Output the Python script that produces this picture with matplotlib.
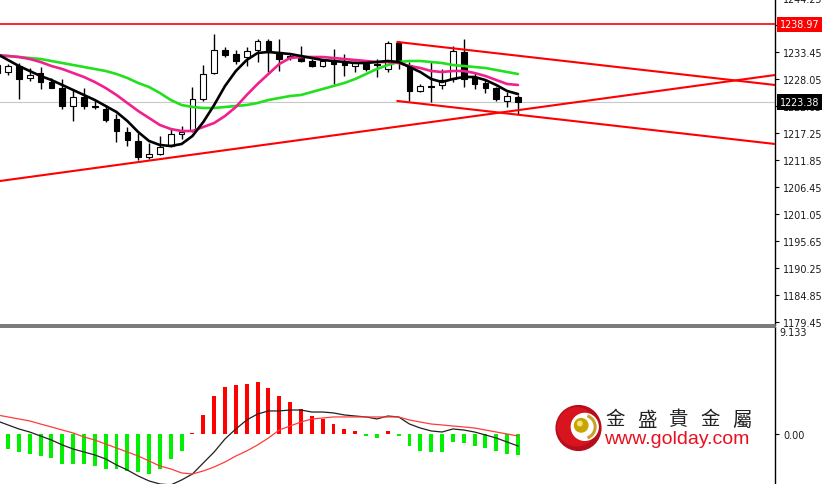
#!/usr/bin/env python3
"""
Gold H-chart recreation: candles with three moving averages, trend channel,
and a MACD panel underneath. Saves out.png (828x485).
"""

from __future__ import annotations

import matplotlib
matplotlib.use("Agg")
import matplotlib.pyplot as plt
import matplotlib.transforms as mtransforms
from matplotlib.patches import Rectangle, Circle, Arc
import numpy as np

# =========================
# Data
# =========================
# bar 0 is the one cut by the left edge
opens = [1230.85, 1229.45, 1230.65, 1228.25, 1229.25, 1227.45, 1226.25, 1222.65, 1224.45, 1222.65,
         1222.05, 1220.05, 1217.45, 1215.65, 1212.45, 1213.05, 1214.65, 1217.05, 1217.85, 1224.05,
         1229.25, 1233.85, 1233.05, 1232.45, 1233.85, 1235.65, 1233.45, 1232.65, 1232.45, 1231.65,
         1230.65, 1231.65, 1231.45, 1230.65, 1231.05, 1231.05, 1230.05, 1235.25, 1230.85, 1225.65,
         1226.65, 1226.85, 1228.05, 1233.45, 1228.45, 1227.25, 1226.25, 1223.65, 1224.45]
highs = [1232.05, 1231.05, 1231.25, 1230.25, 1230.45, 1228.25, 1228.05, 1225.85, 1226.25, 1223.65,
         1222.85, 1221.05, 1218.45, 1217.25, 1215.25, 1216.65, 1218.05, 1218.65, 1226.45, 1230.85,
         1237.05, 1234.45, 1233.85, 1234.45, 1236.05, 1236.05, 1236.05, 1233.25, 1234.65, 1232.05,
         1232.05, 1234.05, 1233.05, 1231.65, 1231.65, 1232.05, 1235.65, 1235.65, 1231.45, 1227.05,
         1231.65, 1230.05, 1234.65, 1236.05, 1229.45, 1227.85, 1226.45, 1225.45, 1224.85]
lows = [1228.65, 1228.85, 1224.05, 1227.65, 1226.05, 1226.15, 1222.05, 1219.65, 1222.05, 1222.05,
        1219.45, 1215.45, 1214.65, 1211.85, 1212.05, 1212.85, 1214.45, 1216.05, 1217.45, 1223.65,
        1229.05, 1232.45, 1231.05, 1230.65, 1231.45, 1229.45, 1229.65, 1231.85, 1231.45, 1230.45,
        1230.45, 1227.05, 1228.65, 1229.45, 1229.65, 1228.45, 1229.45, 1230.05, 1223.65, 1225.45,
        1223.45, 1226.05, 1227.45, 1226.45, 1226.05, 1225.25, 1223.65, 1222.45, 1221.05]
closes = [1229.25, 1230.65, 1228.05, 1228.85, 1227.45, 1226.25, 1222.65, 1224.45, 1222.65, 1222.55,
          1219.85, 1217.65, 1215.85, 1212.45, 1213.05, 1214.45, 1217.05, 1217.45, 1224.05, 1229.05,
          1233.85, 1232.85, 1231.65, 1233.65, 1235.65, 1233.45, 1232.05, 1232.45, 1231.65, 1230.65,
          1231.65, 1231.05, 1230.85, 1231.45, 1230.05, 1230.75, 1235.25, 1231.45, 1225.65, 1226.65,
          1226.55, 1227.85, 1233.65, 1228.05, 1227.05, 1226.25, 1224.05, 1224.65, 1223.38]

# moving averages as drawn (black = fast, pink = middle, green = slow)
ma_fast = [1233.05, 1231.85, 1230.65, 1229.65, 1228.65, 1227.85, 1226.85, 1225.85, 1224.85, 1223.85,
           1222.65, 1221.45, 1219.65, 1217.45, 1215.65, 1214.85, 1214.65, 1215.05, 1216.65, 1219.45,
           1222.85, 1226.65, 1229.65, 1231.85, 1233.25, 1233.45, 1233.25, 1233.05, 1232.65, 1232.25,
           1231.85, 1231.65, 1231.45, 1231.25, 1231.25, 1231.45, 1231.65, 1231.45, 1230.45, 1229.45,
           1228.05, 1227.45, 1228.05, 1228.45, 1228.45, 1227.85, 1226.85, 1225.65, 1225.05]
ma_mid = [1232.85, 1232.65, 1232.45, 1232.05, 1231.45, 1230.65, 1230.05, 1229.25, 1228.45, 1227.45,
          1226.25, 1224.85, 1223.25, 1221.65, 1220.25, 1218.85, 1218.05, 1217.65, 1217.65, 1218.45,
          1219.25, 1220.65, 1222.45, 1224.85, 1227.05, 1229.05, 1231.05, 1232.25, 1232.45, 1232.45,
          1232.45, 1232.25, 1232.05, 1231.85, 1231.65, 1231.45, 1231.45, 1231.25, 1230.65, 1230.25,
          1229.65, 1229.45, 1229.65, 1229.65, 1229.25, 1228.65, 1227.85, 1227.05, 1226.85]
ma_slow = [1232.65, 1232.65, 1232.45, 1232.25, 1232.05, 1231.65, 1231.25, 1230.85, 1230.45, 1230.05,
           1229.65, 1229.05, 1228.25, 1227.25, 1226.45, 1225.25, 1223.85, 1222.85, 1222.45, 1222.25,
           1222.25, 1222.45, 1222.65, 1222.85, 1223.25, 1223.85, 1224.25, 1224.65, 1224.85, 1225.45,
           1226.05, 1226.65, 1227.25, 1228.05, 1229.05, 1230.05, 1230.85, 1231.45, 1231.65, 1231.65,
           1231.45, 1231.25, 1230.85, 1230.65, 1230.45, 1230.25, 1229.85, 1229.45, 1229.05]

# MACD panel
macd_hist = [-1.15, -1.23, -1.49, -1.66, -1.83, -2.00, -2.51, -2.51, -2.51, -2.68,
             -2.93, -2.93, -3.10, -3.19, -3.36, -2.93, -2.08, -1.40, 0.10, 1.66,
             3.27, 4.04, 4.21, 4.29, 4.46, 3.95, 3.27, 2.76, 2.17, 1.57,
             1.32, 0.89, 0.47, 0.30, -0.13, -0.30, 0.30, -0.13, -0.98, -1.40,
             -1.49, -1.49, -0.64, -0.72, -0.98, -1.15, -1.40, -1.66, -1.74]
macd_main = [1.15, 0.81, 0.47, 0.21, -0.13, -0.47, -0.89, -1.23, -1.49, -1.74,
             -2.08, -2.59, -3.02, -3.53, -3.95, -4.21, -4.29, -3.87, -3.36, -2.42,
             -1.49, -0.38, 0.47, 1.23, 1.74, 2.00, 2.00, 2.08, 2.08, 1.91,
             1.91, 1.83, 1.66, 1.57, 1.49, 1.32, 1.57, 1.49, 0.89, 0.55,
             0.30, 0.21, 0.47, 0.38, 0.21, -0.04, -0.30, -0.64, -0.98]
macd_signal = [1.66, 1.49, 1.32, 1.15, 0.89, 0.64, 0.38, 0.13, -0.21, -0.47,
               -0.81, -1.15, -1.49, -1.83, -2.25, -2.68, -2.93, -3.27, -3.36, -3.10,
               -2.76, -2.34, -1.83, -1.40, -0.89, -0.30, 0.38, 0.72, 1.06, 1.32,
               1.40, 1.49, 1.49, 1.49, 1.49, 1.49, 1.49, 1.49, 1.23, 1.06,
               0.89, 0.81, 0.72, 0.64, 0.55, 0.38, 0.21, 0.04, -0.13]
macd_top_label = 9.133

price_ticks = [1179.45, 1184.85, 1190.25, 1195.65, 1201.05, 1206.45, 1211.85,
               1217.25, 1222.65, 1228.05, 1233.45, 1238.85, 1244.25]
last_price = 1223.38
resist_price = 1238.97

# trend lines: (bar positions, prices) of their end points
support_line = ([0.26, 71.7], [1207.65, 1228.85])
channel_top = ([36.9, 71.7], [1235.45, 1226.85])
channel_bottom = ([36.9, 71.7], [1223.65, 1215.05])

logo_cn = "金盛貴金屬"
logo_url = "www.golday.com"

# -----------------------------
# Layout (pixels of the 828x485 picture)
# -----------------------------
W, H = 828, 485
PLOT_RIGHT = 775
PRICE_TOP, PRICE_BOTTOM = -1.25, 325.5
MACD_TOP = 327.5
X_RANGE = (0.263, 71.69)
PRICE_RANGE = (1178.95, 1244.3)
MACD_RANGE = (-4.21, 9.18)

LABEL_SIZE = 6.9
LABEL_COLOR = "#1a1a1a"


def style_axis(ax, top_open: bool) -> None:
    ax.set_xlim(*X_RANGE)
    ax.set_xticks([])
    ax.spines["left"].set_visible(False)
    ax.spines["right"].set_color("black")
    ax.spines["right"].set_linewidth(1.0)
    if top_open:
        ax.spines["top"].set_visible(False)
        ax.spines["bottom"].set_color("#6e6e6e")
        ax.spines["bottom"].set_linewidth(1.3)
    else:
        ax.spines["bottom"].set_visible(False)
        ax.spines["top"].set_color("#6e6e6e")
        ax.spines["top"].set_linewidth(1.3)
    ax.yaxis.tick_right()
    ax.tick_params(axis="y", direction="out", length=3, width=0.8, pad=3,
                   labelsize=LABEL_SIZE, labelcolor=LABEL_COLOR)


def draw_price_panel(fig) -> None:
    ax = fig.add_axes([0, (H - PRICE_BOTTOM) / H, PLOT_RIGHT / W,
                       (PRICE_BOTTOM - PRICE_TOP) / H])
    style_axis(ax, top_open=True)
    ax.set_ylim(*PRICE_RANGE)
    ax.set_yticks(price_ticks)
    ax.set_yticklabels([f"{p:.2f}" for p in price_ticks])

    ax.axhline(last_price, color="#c8c8c8", lw=0.8, zorder=1)
    ax.axhline(resist_price, color="#ff0000", lw=1.2, zorder=5)

    idx = np.arange(len(opens))
    body_w = 0.52
    for i in idx:
        o, c = opens[i], closes[i]
        ax.vlines(i, lows[i], highs[i], color="black", lw=1.0, zorder=2)
        bull = c >= o
        ax.add_patch(Rectangle((i - body_w / 2, min(o, c)), body_w, max(abs(c - o), 0.05),
                               facecolor="white" if bull else "black",
                               edgecolor="black", lw=0.8, zorder=3))

    ax.plot(idx, ma_slow, color="#22e01e", lw=1.9, zorder=4, solid_capstyle="round")
    ax.plot(idx, ma_mid, color="#f0208c", lw=1.9, zorder=4, solid_capstyle="round")
    ax.plot(idx, ma_fast, color="black", lw=1.9, zorder=4, solid_capstyle="round")

    for xs, ys in (support_line, channel_top, channel_bottom):
        ax.plot(xs, ys, color="#ff0000", lw=1.5, zorder=5)

    # price boxes on the right scale (they sit over the regular tick labels)
    trans = mtransforms.blended_transform_factory(ax.transAxes, ax.transData)
    for price, face in ((resist_price, "#ff0000"), (last_price, "black")):
        ax.text(1.0062, price, f"{price:.2f}", transform=trans, ha="left", va="center",
                fontsize=LABEL_SIZE, color="white", clip_on=False, zorder=10,
                bbox=dict(boxstyle="square,pad=0.3", fc=face, ec="none"))


def draw_macd_panel(fig) -> None:
    ax = fig.add_axes([0, 0, PLOT_RIGHT / W, (H - MACD_TOP) / H])
    style_axis(ax, top_open=False)
    ax.set_ylim(*MACD_RANGE)
    ax.set_yticks([0.0])
    ax.set_yticklabels(["0.00"])

    idx = np.arange(len(macd_hist))
    colors = ["#ff0000" if v > 0 else "#00f000" for v in macd_hist]
    ax.bar(idx, macd_hist, width=0.36, color=colors, zorder=2)
    ax.plot(idx, macd_main, color="#202020", lw=0.9, zorder=3)
    ax.plot(idx, macd_signal, color="#ff3b3b", lw=0.9, zorder=3)

    ax.text(1.006, 0.995, f"{macd_top_label:.3f}", transform=ax.transAxes,
            ha="left", va="top", clip_on=False, fontsize=LABEL_SIZE, color=LABEL_COLOR)


def draw_logo(fig) -> None:
    lax = fig.add_axes([555 / W, (H - 453) / H, 47 / W, 48 / H])
    lax.set_xlim(-1.05, 1.05)
    lax.set_ylim(-1.05, 1.05)
    lax.set_aspect("equal")
    lax.axis("off")
    lax.add_patch(Circle((0, 0), 1.0, color="#b50d1c"))
    lax.add_patch(Circle((-0.08, 0.05), 0.85, color="#d8141f"))
    lax.add_patch(Circle((0.28, 0.05), 0.6, color="white"))
    lax.add_patch(Arc((0.22, 0.05), 1.05, 1.05, theta1=-70, theta2=70, color="#c9a227", lw=2.2))
    lax.add_patch(Circle((0.12, 0.12), 0.3, color="#c8a400"))
    lax.add_patch(Circle((0.06, 0.2), 0.1, color="#f2e27a"))

    cjk = ["Noto Sans CJK TC", "DejaVu Sans"]
    for k, ch in enumerate(logo_cn):
        fig.text((615 + 31.7 * k) / W, 1 - 420 / H, ch, ha="center", va="center",
                 fontsize=14, color="#222222", family=cjk)
    fig.text(604 / W, 1 - 440 / H, logo_url, ha="left", va="center",
             fontsize=14, color="#e8101e", family=["Liberation Sans", "DejaVu Sans"])


def main() -> None:
    fig = plt.figure(figsize=(W / 100, H / 100), dpi=100)
    fig.patch.set_facecolor("white")
    draw_price_panel(fig)
    draw_macd_panel(fig)
    draw_logo(fig)
    fig.savefig("out.png", dpi=100, facecolor="white")
    plt.close(fig)


if __name__ == "__main__":
    main()
